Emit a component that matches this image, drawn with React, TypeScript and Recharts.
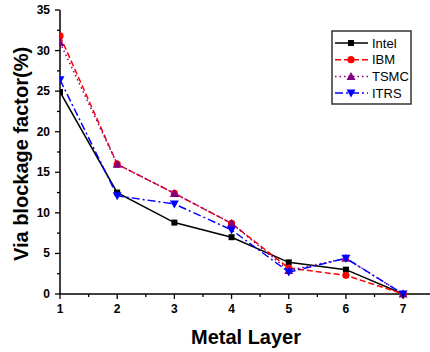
import { LineChart, Line, XAxis, YAxis, Legend } from "recharts"

const layers = [1, 2, 3, 4, 5, 6, 7]
const intel = [24.9, 12.5, 8.8, 7.0, 3.9, 3.0, 0]
const ibm = [31.8, 16.0, 12.4, 8.7, 3.2, 2.3, 0]
const tsmc = [31.0, 16.0, 12.4, 8.7, 2.9, 4.4, 0]
const itrs = [26.4, 12.1, 11.1, 7.9, 2.7, 4.4, 0]

const xTicks = [1, 1.5, 2, 2.5, 3, 3.5, 4, 4.5, 5, 5.5, 6, 6.5, 7]
const yTicks = [0, 2.5, 5, 7.5, 10, 12.5, 15, 17.5, 20, 22.5, 25, 27.5, 30, 32.5, 35]

const data = layers.map((layer, i) => ({
  layer,
  Intel: intel[i],
  IBM: ibm[i],
  TSMC: tsmc[i],
  ITRS: itrs[i],
}))

const FONT = "'Liberation Sans', Arial, sans-serif"

const series = [
  { key: "Intel", color: "#000000", dash: undefined, shape: "square" },
  { key: "IBM", color: "#ff0000", dash: "6 3", shape: "circle" },
  { key: "TSMC", color: "#800080", dash: "1.5 3", shape: "up" },
  { key: "ITRS", color: "#0000ff", dash: "8 3 2 3", shape: "down" },
]

function Marker({ cx, cy, shape, color }: any) {
  if (cx == null || cy == null) return null
  if (shape === "square") return <rect x={cx - 3} y={cy - 3} width={6} height={6} fill={color} />
  if (shape === "circle") return <circle cx={cx} cy={cy} r={3.6} fill={color} />
  if (shape === "up")
    return <path d={`M${cx},${cy - 4.5} L${cx + 4.5},${cy + 3.5} L${cx - 4.5},${cy + 3.5} Z`} fill={color} />
  return <path d={`M${cx},${cy + 4.5} L${cx + 4.5},${cy - 3.5} L${cx - 4.5},${cy - 3.5} Z`} fill={color} />
}

const XTick = ({ x, y, payload }: any) => {
  const major = Number.isInteger(payload.value)
  return (
    <g>
      <line x1={x} x2={x} y1={y} y2={y + (major ? 5 : 3)} stroke="#000" strokeWidth={1.3} />
      {major && (
        <text x={x} y={y + 19} textAnchor="middle" fontSize={12} fontWeight="bold" fontFamily={FONT} fill="#000">
          {payload.value}
        </text>
      )}
    </g>
  )
}

const YTick = ({ x, y, payload }: any) => {
  const major = payload.value % 5 === 0
  return (
    <g>
      <line x1={x} x2={x - (major ? 5 : 3)} y1={y} y2={y} stroke="#000" strokeWidth={1.3} />
      {major && (
        <text x={x - 10} y={y + 4} textAnchor="end" fontSize={12} fontWeight="bold" fontFamily={FONT} fill="#000">
          {payload.value}
        </text>
      )}
    </g>
  )
}

const LegendBox = () => (
  <svg width={82} height={76} style={{ display: "block" }}>
    <rect x={1} y={1} width={79} height={73} fill="#fff" stroke="#333" strokeWidth={1.5} />
    {series.map((s, i) => {
      const cy = 13 + i * 16.7
      return (
        <g key={s.key}>
          <line x1={4} x2={37} y1={cy} y2={cy} stroke={s.color} strokeWidth={1.5} strokeDasharray={s.dash} />
          <Marker cx={20} cy={cy} shape={s.shape} color={s.color} />
          <text x={41} y={cy + 4.5} fontSize={13} fontFamily={FONT} fill="#000">
            {s.key}
          </text>
        </g>
      )
    })}
  </svg>
)

export default function App() {
  return (
    <div style={{ position: "absolute", left: 0, top: 0, background: "#fff" }}>
      <LineChart width={430} height={352} data={data} margin={{ top: 10, right: 0, bottom: 0, left: 0 }}>
        <XAxis
          dataKey="layer"
          type="number"
          domain={[1, 7.47]}
          allowDataOverflow
          ticks={xTicks}
          interval={0}
          tickSize={0}
          tickMargin={0}
          tick={<XTick />}
          height={58}
          axisLine={{ stroke: "#000", strokeWidth: 1.5 }}
          label={{
            content: ({ viewBox }: any) => (
              <text
                x={viewBox.x + viewBox.width / 2 + 1}
                y={viewBox.y + 50}
                textAnchor="middle"
                fontSize={20}
                fontWeight="bold"
                fontFamily={FONT}
                fill="#000"
              >
                Metal Layer
              </text>
            ),
          }}
        />
        <YAxis
          type="number"
          domain={[0, 35]}
          ticks={yTicks}
          interval={0}
          tickSize={0}
          tickMargin={0}
          tick={<YTick />}
          width={60}
          axisLine={{ stroke: "#000", strokeWidth: 1.5 }}
          label={{
            content: ({ viewBox }: any) => {
              const lx = viewBox.x + 28
              const ly = viewBox.y + viewBox.height / 2 + 2
              return (
                <text
                  x={lx}
                  y={ly}
                  transform={`rotate(-90, ${lx}, ${ly})`}
                  textAnchor="middle"
                  fontSize={20}
                  fontWeight="bold"
                  fontFamily={FONT}
                  fill="#000"
                >
                  Via blockage factor(%)
                </text>
              )
            },
          }}
        />
        <Legend
          layout="vertical"
          align="center"
          verticalAlign="middle"
          content={<LegendBox />}
          wrapperStyle={{ left: 331, top: 30, width: 82, height: 76 }}
        />
        {series.map((s) => (
          <Line
            key={s.key}
            dataKey={s.key}
            type="linear"
            stroke={s.color}
            strokeWidth={1.5}
            strokeDasharray={s.dash}
            dot={(p: any) => <Marker key={`${s.key}-${p.index}`} cx={p.cx} cy={p.cy} shape={s.shape} color={s.color} />}
            activeDot={false}
            isAnimationActive={false}
          />
        ))}
      </LineChart>
    </div>
  )
}
